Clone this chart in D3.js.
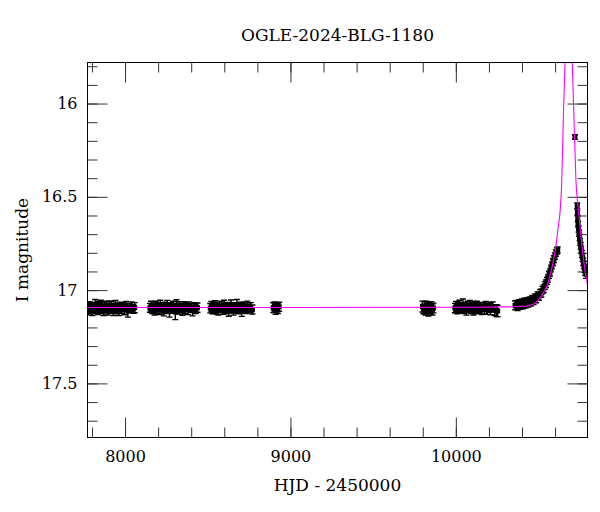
<!DOCTYPE html>
<html>
<head>
<meta charset="utf-8">
<script src="https://cdn.jsdelivr.net/npm/d3@7"></script>
<style>
  body { margin: 0; background: #fff; }
  text { font-family: "DejaVu Serif", serif; fill: #000; }
</style>
</head>
<body>
<div id="chart"></div>
<script>
var svgWidth = 600;
var svgHeight = 512;

var margin = { top: 62.5, right: 12.5, bottom: 74.5, left: 87.5 };
var width = svgWidth - margin.left - margin.right;
var height = svgHeight - margin.top - margin.bottom;

// photometry, one array per season: [HJD-2450000, I mag, error]
var season1 = [[7780,17.098,0.026],[7786,17.085,0.023],[7791,17.104,0.028],[7797,17.092,0.024],[7802,17.110,0.027],[7808,17.088,0.022],[7813,17.097,0.025],[7819,17.080,0.030],[7825,17.101,0.024],[7830,17.093,0.026],[7836,17.108,0.023],[7842,17.087,0.027],[7847,17.095,0.024],[7853,17.079,0.025],[7859,17.103,0.022],[7864,17.091,0.028],[7870,17.112,0.024],[7876,17.089,0.026],[7881,17.099,0.023],[7887,17.084,0.025],[7893,17.106,0.027],[7899,17.094,0.024],[7905,17.090,0.030],[7911,17.102,0.023],[7917,17.086,0.026],[7923,17.097,0.024],[7929,17.109,0.028],[7936,17.092,0.022],[7942,17.081,0.025],[7949,17.100,0.027],[7956,17.094,0.024],[7963,17.107,0.029],[7971,17.088,0.023],[7979,17.098,0.026],[7988,17.091,0.024],[7997,17.104,0.028],[8007,17.086,0.025],[8017,17.113,0.032],[8028,17.095,0.024],[8040,17.090,0.026],[8050,17.101,0.023],[8058,17.094,0.027]];
var season2 = [[8150,17.095,0.024],[8157,17.086,0.026],[8164,17.102,0.023],[8171,17.091,0.028],[8178,17.108,0.025],[8185,17.084,0.024],[8192,17.097,0.027],[8199,17.090,0.023],[8206,17.105,0.026],[8213,17.079,0.025],[8220,17.099,0.029],[8227,17.093,0.024],[8234,17.111,0.027],[8241,17.088,0.023],[8248,17.100,0.026],[8255,17.083,0.028],[8262,17.096,0.024],[8269,17.115,0.030],[8276,17.092,0.025],[8283,17.101,0.023],[8290,17.087,0.027],[8297,17.098,0.024],[8304,17.118,0.040],[8311,17.081,0.029],[8318,17.094,0.023],[8325,17.103,0.025],[8332,17.089,0.027],[8339,17.097,0.024],[8347,17.109,0.026],[8355,17.085,0.023],[8363,17.099,0.028],[8371,17.092,0.024],[8380,17.104,0.027],[8389,17.088,0.025],[8398,17.096,0.023],[8408,17.110,0.028],[8418,17.091,0.024],[8428,17.100,0.026],[8438,17.094,0.025]];
var season3 = [[8515,17.097,0.025],[8522,17.088,0.027],[8529,17.104,0.023],[8536,17.092,0.026],[8543,17.081,0.024],[8550,17.100,0.028],[8557,17.094,0.025],[8564,17.109,0.024],[8571,17.086,0.027],[8578,17.098,0.023],[8585,17.090,0.026],[8592,17.105,0.025],[8599,17.083,0.029],[8606,17.096,0.024],[8613,17.101,0.026],[8620,17.089,0.023],[8627,17.112,0.028],[8634,17.093,0.025],[8641,17.085,0.032],[8648,17.099,0.024],[8655,17.107,0.027],[8662,17.091,0.023],[8669,17.096,0.026],[8676,17.082,0.032],[8683,17.103,0.024],[8690,17.094,0.027],[8698,17.088,0.023],[8706,17.108,0.033],[8714,17.097,0.025],[8722,17.090,0.026],[8731,17.101,0.024],[8740,17.086,0.027],[8750,17.098,0.023],[8760,17.093,0.026],[8770,17.104,0.024]];
var season4 = [[8896,17.094,0.026],[8903,17.087,0.024],[8910,17.101,0.028],[8917,17.092,0.025],[8924,17.098,0.027],[8932,17.089,0.024]];
var season5 = [[9798,17.088,0.029],[9804,17.101,0.026],[9810,17.093,0.032],[9816,17.106,0.027],[9822,17.085,0.025],[9828,17.098,0.028],[9834,17.109,0.030],[9840,17.092,0.026],[9846,17.100,0.027],[9852,17.087,0.025],[9858,17.104,0.029],[9865,17.096,0.026]];
var season6 = [[9994,17.096,0.025],[10001,17.088,0.027],[10008,17.103,0.024],[10015,17.091,0.026],[10022,17.082,0.028],[10029,17.099,0.024],[10036,17.093,0.027],[10043,17.078,0.030],[10050,17.101,0.025],[10057,17.090,0.023],[10064,17.107,0.027],[10071,17.086,0.026],[10078,17.096,0.024],[10085,17.083,0.028],[10092,17.100,0.025],[10099,17.092,0.027],[10106,17.109,0.024],[10113,17.087,0.026],[10120,17.097,0.028],[10127,17.085,0.025],[10134,17.102,0.024],[10141,17.094,0.027],[10149,17.089,0.023],[10157,17.105,0.026],[10165,17.091,0.024],[10173,17.098,0.030],[10181,17.086,0.025],[10190,17.103,0.027],[10200,17.095,0.024],[10210,17.099,0.033],[10222,17.090,0.026],[10235,17.108,0.028],[10246,17.110,0.032],[10253,17.112,0.030]];
var season7 = [[10358,17.082,0.024],[10366,17.078,0.023],[10374,17.084,0.025],[10382,17.074,0.023],[10390,17.079,0.024],[10398,17.071,0.023],[10406,17.076,0.024],[10414,17.067,0.023],[10422,17.072,0.024],[10430,17.063,0.022],[10438,17.068,0.023],[10446,17.058,0.022],[10454,17.062,0.023],[10462,17.050,0.022],[10470,17.055,0.022],[10478,17.042,0.022],[10486,17.046,0.022],[10494,17.031,0.021],[10502,17.033,0.021],[10510,17.018,0.021],[10517,17.016,0.021],[10524,17.000,0.020],[10531,16.993,0.020],[10538,16.976,0.020],[10545,16.966,0.020],[10551,16.950,0.019],[10557,16.938,0.019],[10563,16.918,0.019],[10569,16.905,0.019],[10575,16.884,0.018],[10581,16.868,0.018],[10587,16.850,0.018],[10593,16.834,0.018],[10599,16.818,0.017],[10605,16.802,0.017],[10611,16.790,0.017],[10616,16.785,0.017]];
var season8 = [[10720,16.179,0.012],[10734,16.548,0.015],[10735,16.585,0.015],[10737,16.618,0.016],[10739,16.646,0.016],[10742,16.672,0.017],[10745,16.695,0.017],[10748,16.718,0.018],[10751,16.741,0.018],[10755,16.762,0.018],[10758,16.783,0.019],[10762,16.806,0.019],[10766,16.826,0.020],[10770,16.848,0.020],[10774,16.866,0.020],[10778,16.884,0.021],[10782,16.899,0.021],[10787,16.915,0.022]];

// microlensing model
var modelT = [7773, 9000, 10000, 10200, 10300, 10346, 10390, 10430, 10466, 10490, 10509, 10530, 10551, 10569, 10587, 10606, 10618, 10630, 10640, 10650, 10660, 10682, 10704, 10714, 10726, 10740, 10761, 10775, 10790, 10796];
var modelMag = [17.093, 17.093, 17.092, 17.091, 17.090, 17.089, 17.087, 17.085, 17.076, 17.062, 17.042, 17.013, 16.978, 16.924, 16.855, 16.758, 16.667, 16.581, 16.426, 16.072, 15.783, 15.2, 15.783, 16.072, 16.410, 16.561, 16.749, 16.855, 16.942, 16.969];

var xMajor = [8000, 9000, 10000];
var yMajor = [16, 16.5, 17, 17.5];

var svg = d3.select("#chart")
  .append("svg")
  .attr("width", svgWidth)
  .attr("height", svgHeight);

var chartGroup = svg.append("g")
  .attr("transform", `translate(${margin.left}, ${margin.top})`);

var xScale = d3.scaleLinear().domain([7773, 10796]).range([0, width]);
var yScale = d3.scaleLinear().domain([15.78, 17.79]).range([0, height]);

var xMinor = d3.range(7800, 10700, 200);
var yMinor = d3.range(158, 178).map(d => d / 10);

// ticks on all four sides, pointing inward
function drawTicks(axis, translate) {
  var g = chartGroup.append("g").attr("transform", translate).call(axis);
  g.select(".domain").remove();
  g.selectAll(".tick line").attr("stroke", "#333");
  return g;
}

drawTicks(d3.axisBottom(xScale).tickValues(xMinor).tickSize(-10).tickFormat(""), `translate(0, ${height})`);
drawTicks(d3.axisTop(xScale).tickValues(xMinor).tickSize(-10).tickFormat(""), "translate(0, 0)");
drawTicks(d3.axisLeft(yScale).tickValues(yMinor).tickSize(-10).tickFormat(""), "translate(0, 0)");
drawTicks(d3.axisRight(yScale).tickValues(yMinor).tickSize(-10).tickFormat(""), `translate(${width}, 0)`);

var bottomAxis = drawTicks(d3.axisBottom(xScale).tickValues(xMajor).tickSize(-20).tickPadding(13).tickFormat(d3.format("d")), `translate(0, ${height})`);
drawTicks(d3.axisTop(xScale).tickValues(xMajor).tickSize(-20).tickFormat(""), "translate(0, 0)");
var leftAxis = drawTicks(d3.axisLeft(yScale).tickValues(yMajor).tickSize(-20).tickPadding(10).tickFormat(d => d), "translate(0, 0)");
drawTicks(d3.axisRight(yScale).tickValues(yMajor).tickSize(-20).tickFormat(""), `translate(${width}, 0)`);

bottomAxis.selectAll("text").attr("font-size", 16).attr("font-family", "DejaVu Serif").attr("fill", "#000");
leftAxis.selectAll("text").attr("font-size", 16).attr("font-family", "DejaVu Serif").attr("fill", "#000");

// clip to the frame
chartGroup.append("clipPath").attr("id", "plotClip")
  .append("rect").attr("width", width).attr("height", height);

var plotArea = chartGroup.append("g").attr("clip-path", "url(#plotClip)");

// data points with error bars
var allSeasons = [season1, season2, season3, season4, season5, season6, season7, season8];
allSeasons.forEach(function(season) {
  var pts = plotArea.append("g").selectAll("g").data(season).enter().append("g")
    .attr("stroke", "#000").attr("stroke-width", 1.4);
  pts.append("line")
    .attr("x1", d => xScale(d[0])).attr("x2", d => xScale(d[0]))
    .attr("y1", d => yScale(d[1] - d[2])).attr("y2", d => yScale(d[1] + d[2]));
  pts.append("line")
    .attr("x1", d => xScale(d[0]) - 3).attr("x2", d => xScale(d[0]) + 3)
    .attr("y1", d => yScale(d[1] - d[2])).attr("y2", d => yScale(d[1] - d[2]));
  pts.append("line")
    .attr("x1", d => xScale(d[0]) - 3).attr("x2", d => xScale(d[0]) + 3)
    .attr("y1", d => yScale(d[1] + d[2])).attr("y2", d => yScale(d[1] + d[2]));
  pts.append("rect")
    .attr("x", d => xScale(d[0]) - 2.5)
    .attr("y", d => yScale(d[1]) - 2.5)
    .attr("width", 5).attr("height", 5)
    .attr("stroke", "none")
    .attr("fill", "#000");
});

// model curve
var modelLine = d3.line()
  .x((d, i) => xScale(modelT[i]))
  .y(d => yScale(d))
  .curve(d3.curveMonotoneX);

plotArea.append("path")
  .attr("d", modelLine(modelMag))
  .attr("fill", "none")
  .attr("stroke", "#ff00ff")
  .attr("stroke-width", 1.1);

// frame
chartGroup.append("rect")
  .attr("width", width).attr("height", height)
  .attr("fill", "none").attr("stroke", "#000").attr("stroke-width", 1);

// labels
svg.append("text")
  .attr("x", margin.left + width / 2).attr("y", 41)
  .attr("text-anchor", "middle").attr("font-size", 17)
  .text("OGLE-2024-BLG-1180");

svg.append("text")
  .attr("x", margin.left + width / 2).attr("y", 491)
  .attr("text-anchor", "middle").attr("font-size", 17)
  .text("HJD - 2450000");

svg.append("text")
  .attr("transform", `translate(28, ${margin.top + height / 2}) rotate(-90)`)
  .attr("text-anchor", "middle").attr("font-size", 17)
  .text("I magnitude");
</script>
</body>
</html>
